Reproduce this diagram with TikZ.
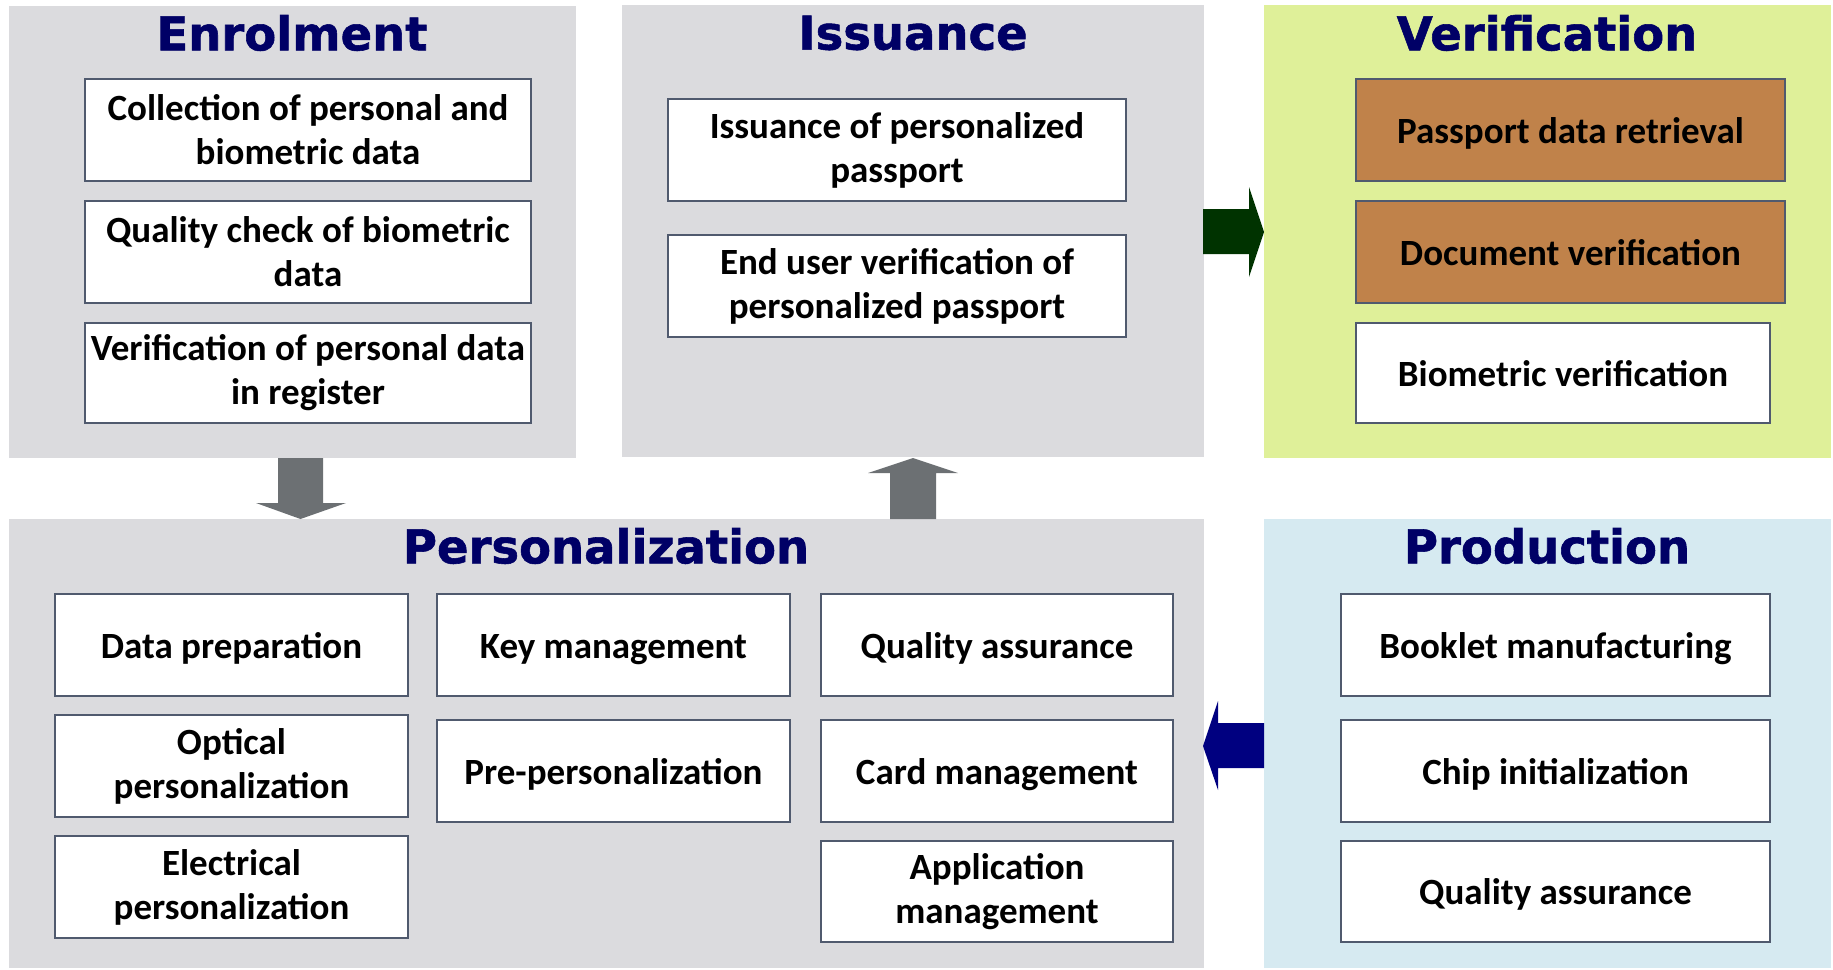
\documentclass[tikz,border=0pt]{standalone}
\usepackage{fontspec}
\setmainfont{Carlito}
\newfontfamily\titlefont[BoldFeatures={FakeBold=1.2}]{DejaVu Sans}
\definecolor{panelgray}{RGB}{219,219,222}
\definecolor{panelgreen}{RGB}{223,240,153}
\definecolor{panelblue}{RGB}{214,234,241}
\definecolor{boxline}{RGB}{80,90,110}
\definecolor{boxbrown}{RGB}{192,130,74}
\definecolor{titlenavy}{RGB}{0,0,102}
\definecolor{arrowgray}{RGB}{108,112,115}
\definecolor{arrowgreen}{RGB}{0,51,0}
\definecolor{arrowblue}{RGB}{0,0,128}
\newcommand\rectnode[7]{\node[#7, minimum width={#4-#2}, minimum height={#5-#3}] (#1) at ({(#2+#4)/2},{(#3+#5)/2}) {#6};}
\begin{document}
\begin{tikzpicture}[x=1pt,y=-1pt,
  panel/.style={rectangle, draw=none, inner sep=0pt},
  box/.style={rectangle, draw=boxline, line width=2.5pt, fill=white, align=center, inner sep=0pt,
    font=\bfseries\fontsize{37}{44}\selectfont},
  one/.style={box, text height=31pt, text depth=5pt},
  brownbox/.style={one, fill=boxbrown},
  title/.style={font=\titlefont\bfseries\fontsize{46.5}{54}\selectfont, text=titlenavy, inner sep=0pt}]
\useasboundingbox (0,0) rectangle (1833,969);
% panels
\rectnode{enrP}{9}{6}{576}{458}{}{panel, fill=panelgray}
\rectnode{issP}{622}{5}{1204}{457}{}{panel, fill=panelgray}
\rectnode{verP}{1264}{5}{1831}{458}{}{panel, fill=panelgreen}
\rectnode{perP}{9}{519}{1204}{968}{}{panel, fill=panelgray}
\rectnode{proP}{1264}{519}{1831}{968}{}{panel, fill=panelblue}
% titles
\node[title] (enrT) at (292,33) {Enrolment};
\node[title] (issT) at (913,33) {Issuance};
\node[title] (verT) at (1547,33) {Verification};
\node[title] (perT) at (606,546) {Personalization};
\node[title] (proT) at (1547,546) {Production};
% enrolment boxes
\rectnode{e1}{85}{79}{531}{181}{Collection of personal and\\biometric data}{box}
\rectnode{e2}{85}{201}{531}{303}{Quality check of biometric\\data}{box}
\rectnode{e3}{85}{323}{531}{423}{Verification of personal data\\in register}{box}
% issuance boxes
\rectnode{i1}{668}{99}{1126}{201}{Issuance of personalized\\passport}{box}
\rectnode{i2}{668}{235}{1126}{337}{End user verification of\\personalized passport}{box}
% verification boxes
\rectnode{v1}{1356}{79}{1785}{181}{Passport data retrieval}{brownbox}
\rectnode{v2}{1356}{201}{1785}{303}{Document verification}{brownbox}
\rectnode{v3}{1356}{323}{1770}{423}{Biometric verification}{one}
% personalization boxes
\rectnode{p1}{55}{594}{408}{696}{Data preparation}{one}
\rectnode{p2}{55}{715}{408}{817}{Optical\\personalization}{box}
\rectnode{p3}{55}{836}{408}{938}{Electrical\\personalization}{box}
\rectnode{p4}{437}{594}{790}{696}{Key management}{one}
\rectnode{p5}{437}{720}{790}{822}{Pre-personalization}{one}
\rectnode{p6}{821}{594}{1173}{696}{Quality assurance}{one}
\rectnode{p7}{821}{720}{1173}{822}{Card management}{one}
\rectnode{p8}{821}{841}{1173}{942}{Application\\management}{box}
% production boxes
\rectnode{r1}{1341}{594}{1770}{696}{Booklet manufacturing}{one}
\rectnode{r2}{1341}{720}{1770}{822}{Chip initialization}{one}
\rectnode{r3}{1341}{841}{1770}{942}{Quality assurance}{one}
% block arrows
\fill[arrowgray] (278,458) -- (323,458) -- (323,503) -- (346,503) -- (300.5,519) -- (256,503) -- (278,503) -- cycle;
\fill[arrowgray] (890,519) -- (936,519) -- (936,473) -- (958,473) -- (913,458) -- (868,473) -- (890,473) -- cycle;
\fill[arrowgreen] (1203,209) -- (1249,209) -- (1249,187) -- (1264,232) -- (1249,277) -- (1249,254) -- (1203,254) -- cycle;
\fill[arrowblue] (1264,723) -- (1218,723) -- (1218,701) -- (1203,746) -- (1218,790) -- (1218,768) -- (1264,768) -- cycle;
\end{tikzpicture}
\end{document}
